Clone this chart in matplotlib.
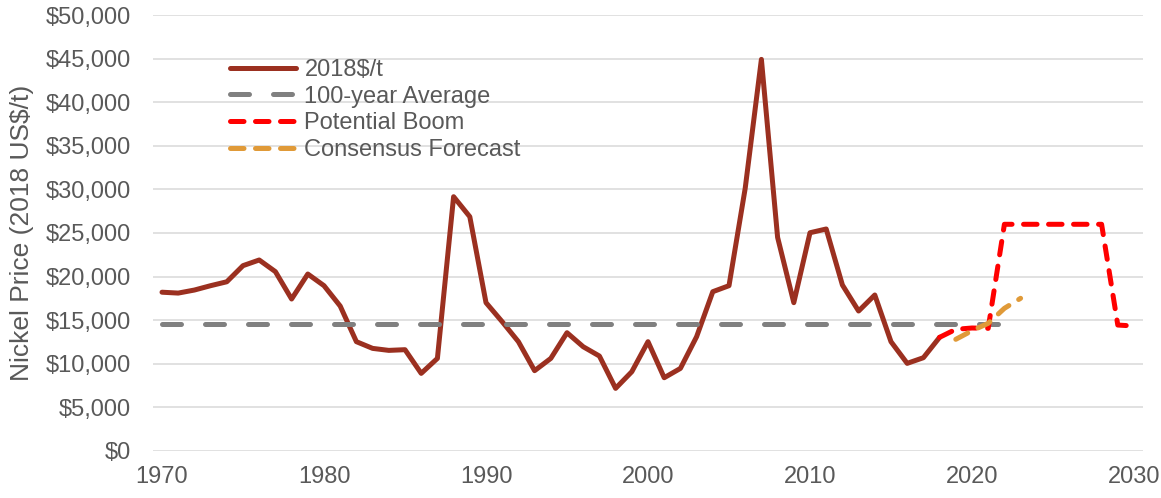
import matplotlib
matplotlib.use("Agg")
import matplotlib.pyplot as plt
from matplotlib.patches import Rectangle
from matplotlib.ticker import FuncFormatter, MultipleLocator

# ---- data ----
years_hist = list(range(1970, 2019))
price_hist = [18200, 18100, 18450, 18950, 19400, 21250, 21900, 20560, 17420, 20290,
              18950, 16610, 12520, 11750, 11520, 11600, 8880, 10600, 29170, 26870,
              17000, 14810, 12520, 9190, 10600, 13550, 11940, 10870, 7160, 9070,
              12520, 8380, 9450, 13090, 18260, 18950, 30130, 44940, 24500, 17000,
              25030, 25460, 19030, 16040, 17880, 12520, 10030, 10680, 13020]

years_avg = list(range(1970, 2024))
avg_value = 14550

years_boom = list(range(2018, 2031))
price_boom = [13020, 13940, 14090, 14050, 26000, 26000, 26000, 26000, 26000, 26000,
              26000, 14430, 14320]

years_cons = [2019, 2020, 2021, 2022, 2023]
price_cons = [12790, 13780, 14630, 16350, 17500]

labels = ["2018$/t", "100-year Average", "Potential Boom", "Consensus Forecast"]

# ---- style ----
plt.rcParams['font.family'] = ['Liberation Sans', 'DejaVu Sans']
TXT = "#595959"
W, H, DPI = 1161, 498, 100
fig = plt.figure(figsize=(W / DPI, H / DPI), dpi=DPI)

x0, x1 = 153, 1143
ytop, ybot = 15.3, 450.7
ax = fig.add_axes([x0 / W, 1 - ybot / H, (x1 - x0) / W, (ybot - ytop) / H])

lw = 3.6
l1, = ax.plot(years_hist, price_hist, color="#9B3020", lw=lw, solid_capstyle="round",
              solid_joinstyle="round", zorder=3, label=labels[0])
l2, = ax.plot(years_avg, [avg_value] * len(years_avg), color="#808080", lw=lw,
              dashes=(3.8, 4.8), dash_capstyle="round", zorder=4, label=labels[1])
l3, = ax.plot(years_boom, price_boom, color="#FF0000", lw=lw, dashes=(2.7, 2.3),
              dash_capstyle="round", dash_joinstyle="round", zorder=5, label=labels[2])
l4, = ax.plot(years_cons, price_cons, color="#E09A38", lw=lw, dashes=(2.7, 2.3),
              dash_capstyle="round", dash_joinstyle="round", zorder=6, label=labels[3])

pad_yrs = 0.556
ax.set_xlim(1970 - pad_yrs, 2030 + pad_yrs)
ax.set_ylim(0, 50000)
ax.xaxis.set_major_locator(MultipleLocator(10))
ax.yaxis.set_major_locator(MultipleLocator(5000))
ax.yaxis.set_major_formatter(FuncFormatter(lambda v, p: "${:,.0f}".format(v)))

ax.grid(axis="y", color="#D9D9D9", lw=1.1, zorder=0)
ax.set_axisbelow(True)
for s in ax.spines.values():
    s.set_visible(False)
ax.tick_params(axis="both", length=0, labelsize=17, labelcolor=TXT)
ax.tick_params(axis="y", pad=16)
ax.tick_params(axis="x", pad=11)

ax.set_ylabel("Nickel Price (2018 US$/t)", fontsize=19, color=TXT)
ax.yaxis.set_label_coords((34 - x0) / (x1 - x0), 0.5)

# white legend backdrop covering gridlines
fig.patches.append(Rectangle((192 / W, 1 - 178 / H), (552 - 192) / W, (178 - 28) / H,
                             transform=fig.transFigure, facecolor="white",
                             edgecolor="none", zorder=1))
ax.set_zorder(2)
ax.patch.set_alpha(0)

leg = fig.legend(handles=[l1, l2, l3, l4], loc="upper left",
                 bbox_to_anchor=(230 / W, 1 - 59 / H), frameon=False,
                 fontsize=17, labelcolor=TXT, handlelength=2.8, handletextpad=0.35,
                 labelspacing=0.2, borderpad=0, borderaxespad=0)

fig.savefig("out.png", dpi=DPI)
